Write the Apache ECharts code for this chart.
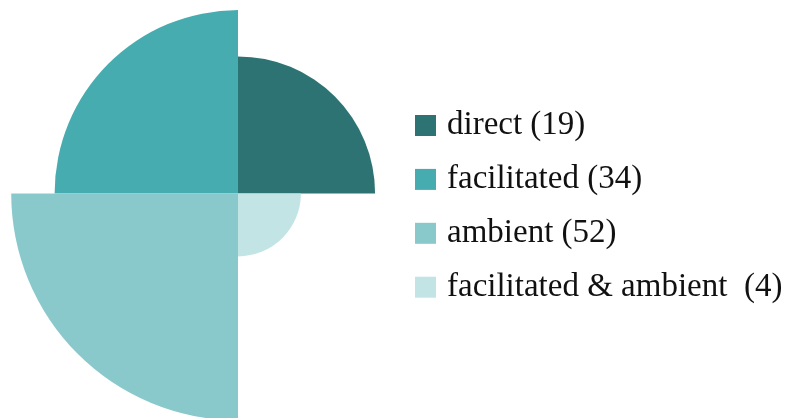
<!DOCTYPE html>
<html><head><meta charset="utf-8">
<script src="https://cdn.jsdelivr.net/npm/echarts@6/dist/echarts.min.js"></script>
<style>html,body{margin:0;padding:0;background:#fff}#c{width:799px;height:418px}</style>
</head><body><div id="c"></div>
<script>
// Categories in legend order
const categories = ['direct', 'facilitated', 'ambient', 'facilitated & ambient'];
const counts = [19, 34, 52, 4];
const legendLabels = ['direct (19)', 'facilitated (34)', 'ambient (52)', 'facilitated & ambient  (4)'];
const colors = ['#2d7374', '#47acb0', '#89c9cc', '#c3e4e5'];
// angular order, clockwise from 12 o'clock
const angleOrder = ['direct', 'facilitated & ambient', 'ambient', 'facilitated'];

const series = categories.map((cat, i) => {
  const data = angleOrder.map(a => a === cat ? Math.sqrt(counts[i]) : '-'); // area-proportional sectors
  return {
    type: 'bar', coordinateSystem: 'polar', name: legendLabels[i],
    data: data, barGap: '-100%', barCategoryGap: '0%',
    itemStyle: { color: colors[i], borderWidth: 0 },
    silent: true, animation: false
  };
});

const chart = echarts.init(document.getElementById('c'), null, { renderer: 'canvas' });
chart.setOption({
  backgroundColor: '#ffffff',
  animation: false,
  polar: { center: [238, 193.5], radius: 251.6 },
  angleAxis: { type: 'category', data: angleOrder, startAngle: 90, clockwise: true, show: false },
  radiusAxis: { type: 'value', min: 0, max: 8, show: false },
  legend: {
    orient: 'vertical', left: 415, top: 109, padding: 0,
    itemWidth: 21, itemHeight: 21, itemGap: 20.9,
    icon: 'rect', selectedMode: false,
    data: legendLabels,
    textStyle: { fontFamily: 'Liberation Serif', fontSize: 33, color: '#111', padding: [4, 0, 0, 6] }
  },
  series: series
});
</script></body></html>
